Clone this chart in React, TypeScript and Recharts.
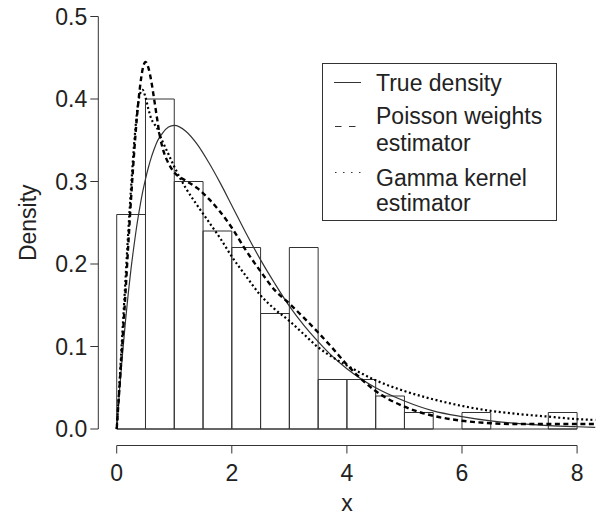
import React from 'react';
import { ComposedChart, Line, XAxis, YAxis, ReferenceArea, ReferenceLine, Label } from 'recharts';

// histogram: bin left edges (width 0.5) and densities
const binStarts = [0, 0.5, 1, 1.5, 2, 2.5, 3, 3.5, 4, 4.5, 5, 5.5, 6, 6.5, 7, 7.5];
const binDensity = [0.26, 0.4, 0.3, 0.24, 0.22, 0.14, 0.22, 0.06, 0.06, 0.04, 0.02, 0, 0.02, 0, 0, 0.02];
const binWidth = 0.5;

// curve points
const xGrid = [
  0, 0.05, 0.1, 0.15, 0.2, 0.25, 0.3, 0.35, 0.4, 0.45,
  0.5, 0.55, 0.6, 0.65, 0.7, 0.75, 0.8, 0.9, 1.0,
  1.2, 1.4, 1.6, 1.8, 2.0,
  2.25, 2.5, 2.75, 3.0, 3.25, 3.5, 3.75, 4.0,
  4.5, 5, 5.5, 6, 6.5, 7, 7.5, 8, 8.32,
];
const trueDensity = [
  0, 0.048, 0.09, 0.129, 0.164, 0.195, 0.222, 0.247, 0.268, 0.287,
  0.303, 0.317, 0.329, 0.339, 0.348, 0.354, 0.359, 0.366, 0.368,
  0.361, 0.345, 0.323, 0.298, 0.271,
  0.237, 0.205, 0.176, 0.149, 0.126, 0.106, 0.088, 0.073,
  0.05, 0.034, 0.022, 0.015, 0.0098, 0.0064, 0.0041, 0.0027, 0.002,
];
const poissonEst = [
  0, 0.052, 0.106, 0.162, 0.222, 0.28, 0.332, 0.377, 0.412, 0.436,
  0.445, 0.438, 0.422, 0.4, 0.377, 0.355, 0.34, 0.322, 0.311,
  0.301, 0.292, 0.279, 0.263, 0.244,
  0.216, 0.191, 0.168, 0.152, 0.135, 0.117, 0.098, 0.078,
  0.046, 0.027, 0.016, 0.01, 0.007, 0.006, 0.006, 0.006, 0.006,
];
const gammaEst = [
  0, 0.058, 0.118, 0.178, 0.238, 0.293, 0.343, 0.382, 0.405, 0.411,
  0.402, 0.388, 0.376, 0.37, 0.365, 0.356, 0.348, 0.333, 0.318,
  0.292, 0.271, 0.251, 0.231, 0.209,
  0.185, 0.162, 0.145, 0.131, 0.115, 0.099, 0.087, 0.077,
  0.059, 0.046, 0.036, 0.028, 0.022, 0.018, 0.015, 0.012, 0.011,
];

const xTicks = [0, 2, 4, 6, 8];
const yTicks = [0, 0.1, 0.2, 0.3, 0.4, 0.5];

const legendLines = [
  ['True density'],
  ['Poisson weights', 'estimator'],
  ['Gamma kernel', 'estimator'],
];

const rows = xGrid.map((x, i) => ({ x, t: trueDensity[i], p: poissonEst[i], g: gammaEst[i] }));

const FONT = '"Liberation Sans", Arial, Helvetica, sans-serif';
const INK = '#222';
const LINE = '#333';
const tickStyle = { fill: INK, fontSize: 23, fontFamily: FONT };

const LegendBox = () => (
  <svg
    width={236}
    height={159}
    style={{ position: 'absolute', left: 322, top: 63 }}
    fontFamily={FONT}
    fontSize={23}
    fill={INK}
  >
    <rect x={0.5} y={0.5} width={234} height={157} fill="white" stroke={LINE} strokeWidth={1} />
    <line x1={12} x2={39} y1={19.5} y2={19.5} stroke={LINE} strokeWidth={1} />
    <line x1={13} x2={40} y1={63.5} y2={63.5} stroke={LINE} strokeWidth={1} strokeDasharray="6.5 7.5" />
    <line x1={13} x2={40} y1={109.5} y2={109.5} stroke={LINE} strokeWidth={1.2} strokeDasharray="1.5 6.5" />
    <text x={54} y={28}>{legendLines[0][0]}</text>
    <text x={54} y={61}>{legendLines[1][0]}</text>
    <text x={54} y={88}>{legendLines[1][1]}</text>
    <text x={54} y={123}>{legendLines[2][0]}</text>
    <text x={54} y={148}>{legendLines[2][1]}</text>
  </svg>
);

export default function App() {
  return (
    <div style={{ position: 'absolute', left: 0, top: 0, width: 597, height: 518, background: 'white' }}>
      <ComposedChart width={597} height={518} data={rows} margin={{ top: 0, right: 1.5, left: 0, bottom: 0 }}>
        <XAxis
          dataKey="x"
          type="number"
          domain={[-0.32, 8.32]}
          ticks={xTicks}
          allowDataOverflow
          axisLine={false}
          tickLine={{ stroke: LINE }}
          tickSize={8}
          tickMargin={11}
          tick={tickStyle}
          height={72.5}
        >
          <Label value="x" position="insideBottom" offset={7} style={{ ...tickStyle, textAnchor: 'middle' }} />
        </XAxis>
        <YAxis
          type="number"
          domain={[-0.02, 0.52]}
          ticks={yTicks}
          allowDataOverflow
          axisLine={false}
          tickLine={{ stroke: LINE }}
          tickSize={8}
          tickMargin={3}
          tick={tickStyle}
          tickFormatter={(v: number) => v.toFixed(1)}
          width={98.3}
        >
          <Label value="Density" angle={-90} position="insideLeft" offset={28} style={{ ...tickStyle, textAnchor: 'middle' }} />
        </YAxis>

        {/* R-style axis lines that only span the ticks */}
        <ReferenceLine segment={[{ x: 0, y: -0.02 }, { x: 8, y: -0.02 }]} stroke={LINE} strokeWidth={1} ifOverflow="visible" />
        <ReferenceLine segment={[{ x: -0.32, y: 0 }, { x: -0.32, y: 0.5 }]} stroke={LINE} strokeWidth={1} ifOverflow="visible" />

        {binStarts.map((b, i) =>
          binDensity[i] > 0 ? (
            <ReferenceArea
              key={i}
              x1={b}
              x2={b + binWidth}
              y1={0}
              y2={binDensity[i]}
              fill="none"
              fillOpacity={0}
              stroke={LINE}
              strokeWidth={1}
              strokeOpacity={1}
              ifOverflow="visible"
            />
          ) : null
        )}
        <ReferenceLine segment={[{ x: 0, y: 0 }, { x: 8, y: 0 }]} stroke={LINE} strokeWidth={1} ifOverflow="visible" />

        <Line type="monotone" dataKey="t" stroke={LINE} strokeWidth={1.2} dot={false} isAnimationActive={false} />
        <Line type="monotone" dataKey="p" stroke="#000" strokeWidth={2.4} strokeDasharray="5 3.5" dot={false} isAnimationActive={false} />
        <Line type="monotone" dataKey="g" stroke="#000" strokeWidth={2.2} strokeDasharray="2 2.6" dot={false} isAnimationActive={false} />
      </ComposedChart>
      <LegendBox />
    </div>
  );
}
